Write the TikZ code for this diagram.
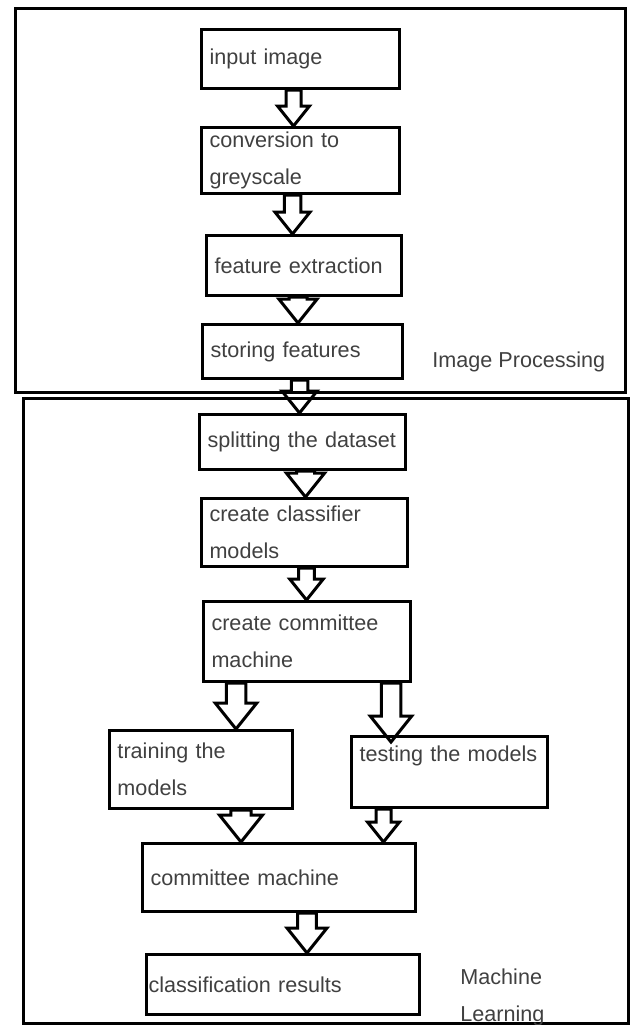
\documentclass[tikz,border=0pt]{standalone}
\usepackage{fontspec}
\setmainfont{Liberation Sans}
\usetikzlibrary{positioning,calc}

\tikzset{
  stepbox/.style={rectangle, draw, line width=1.5pt, anchor=north west, align=left,
    inner xsep=4pt, inner ysep=1pt, text=black!75,
    font=\fontsize{10.8}{18.5}\selectfont},
  arrowline/.style={draw, line width=1.5pt, line join=miter},
  framebox/.style={draw, line width=1.5pt},
  boxlabel/.style={anchor=west, align=left, inner sep=0pt, text=black!75,
    font=\fontsize{10.8}{18.5}\selectfont}
}

% hollow block arrow: [size]{from}{to}
\newcommand{\hollowarrow}[3][1]{%
  \draw[arrowline] let \p1=(#2), \p2=(#3) in
    (\x1-#1*3.75pt,\y1) -- (\x1-#1*3.75pt,\y2+#1*10pt) -- (\x1-#1*8pt,\y2+#1*10pt)
    -- (\x1,\y2) -- (\x1+#1*8pt,\y2+#1*10pt) -- (\x1+#1*3.75pt,\y2+#1*10pt)
    -- (\x1+#1*3.75pt,\y1) -- cycle;}

\begin{document}
\begin{tikzpicture}[x=0.5pt, y=-0.5pt]
            \useasboundingbox (0,0) rectangle (630,1025);

            % Frames
            \draw[framebox] (15,8) rectangle (625,392);
            \draw[framebox] (23,398) rectangle (628,1023);
            \node[boxlabel] (iplabel) at (432,362) {Image Processing};
            \node[boxlabel] (mllabel) at (460,997) {Machine\\Learning};

            % Nodes
            \node[stepbox, text width=91pt, minimum height=29.5pt] (inimg) at (200,28) {input image};
            \node[stepbox, text width=91pt, minimum height=33pt] (grey) at (200,126) {conversion to\\greyscale};
            \node[stepbox, text width=89.5pt, minimum height=30pt] (feat) at (205,234) {feature extraction};
            \node[stepbox, text width=92pt, minimum height=27pt] (store) at (201,323) {storing features};

            \node[stepbox, text width=95pt, minimum height=27.5pt] (split) at (198,413) {splitting the dataset};
            \node[stepbox, text width=95pt, minimum height=34pt] (clf) at (200,497) {create classifier\\models};
            \node[stepbox, text width=95.5pt, minimum height=40pt] (cmm) at (202,600) {create committee\\machine};
            \node[stepbox, text width=83.5pt, minimum height=39pt] (train) at (108,729) {training the\\models};
            \node[stepbox, text width=90pt, minimum height=35.5pt] (test) at (350,735) {testing the models\\\mbox{}};
            \node[stepbox, text width=128.5pt, minimum height=34pt] (comm) at (141,842) {committee machine};
            \node[stepbox, inner xsep=1pt, text width=134.5pt, minimum height=30pt] (result) at (145,953) {classification results};

            % Arrows
            \hollowarrow{$(inimg.south)+(-7,0)$}{grey.north}
            \hollowarrow[1.1]{$(grey.south)+(-8,0)$}{feat.north}
            \hollowarrow[1.2]{$(feat.south)+(-6,0)$}{store.north}
            \hollowarrow[1.1]{$(store.south)+(-3,0)$}{split.north}
            \hollowarrow[1.2]{$(split.south)+(3,0)$}{clf.north}
            \hollowarrow[1.05]{$(clf.south)+(2,0)$}{cmm.north}
            \hollowarrow[1.3]{$(cmm.south)+(-71,0)$}{train.north}
            \hollowarrow[1.3]{$(cmm.south)+(84,0)$}{$(test.north)+(0,7)$}
            \hollowarrow[1.35]{$(train.south)+(40,0)$}{comm.north}
            \hollowarrow{$(test.south)+(-66,0)$}{comm.north}
            \hollowarrow[1.25]{$(comm.south)+(28,0)$}{result.north}
\end{tikzpicture}
\end{document}
